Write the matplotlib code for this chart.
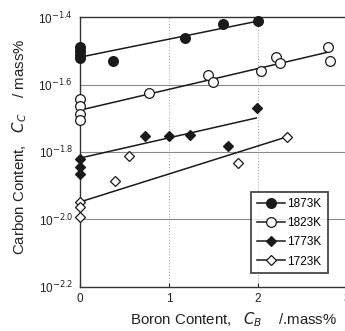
import numpy as np
import matplotlib
matplotlib.use("Agg")
import matplotlib.pyplot as plt

plt.rcParams['font.family'] = ['Liberation Sans', 'DejaVu Sans']

# Measured carbon solubility (log10 of mass%) vs boron content (mass%)
b_1873 = [0.0, 0.0, 0.0, 0.0, 0.37, 1.18, 1.61, 2.0]
logc_1873 = [-1.489, -1.501, -1.513, -1.521, -1.530, -1.462, -1.421, -1.412]

b_1823 = [0.0, 0.0, 0.0, 0.0, 0.78, 1.44, 1.49, 2.03, 2.2, 2.25, 2.79, 2.81]
logc_1823 = [-1.643, -1.664, -1.687, -1.705, -1.625, -1.572, -1.593,
             -1.560, -1.518, -1.536, -1.489, -1.530]

b_1773 = [0.0, 0.0, 0.0, 0.73, 1.0, 1.24, 1.66, 1.99]
logc_1773 = [-1.821, -1.844, -1.865, -1.753, -1.753, -1.750, -1.782, -1.670]

b_1723 = [0.0, 0.0, 0.0, 0.39, 0.55, 1.78, 2.32]
logc_1723 = [-1.948, -1.963, -1.993, -1.887, -1.812, -1.833, -1.755]

# Fitted lines: (intercept, slope, x end)
fit_1873 = (-1.519, 0.0535, 2.0)
fit_1823 = (-1.676, 0.0617, 2.79)
fit_1773 = (-1.818, 0.060, 1.98)
fit_1723 = (-1.948, 0.083, 2.32)

series = [
    ("1873K", b_1873, logc_1873, fit_1873, dict(marker='o', mfc='#1a1a1a', ms=7)),
    ("1823K", b_1823, logc_1823, fit_1823, dict(marker='o', mfc='white', ms=7)),
    ("1773K", b_1773, logc_1773, fit_1773, dict(marker='D', mfc='#1a1a1a', ms=5.5)),
    ("1723K", b_1723, logc_1723, fit_1723, dict(marker='D', mfc='white', ms=5.5)),
]

y_ticks = [-2.2, -2.0, -1.8, -1.6, -1.4]
x_ticks = [0, 1, 2, 3]

fig = plt.figure(figsize=(3.45, 3.31), dpi=100)
ax = fig.add_axes([0.232, 0.133, 0.774, 0.8156])
ax.set_yscale('log')

handles = []
for name, bx, ly, fit, st in series:
    c = np.power(10.0, ly)
    ax.plot(bx, c, linestyle='none', color='#1a1a1a', mec='#1a1a1a', mew=0.9,
            zorder=4, clip_on=False, **st)
    a, s, xe = fit
    xl = np.array([0.0, xe])
    ax.plot(xl, np.power(10.0, a + s * xl), color='#1a1a1a', lw=1.1, zorder=3)
    h, = ax.plot([], [], color='#1a1a1a', mec='#1a1a1a', lw=1.1, mew=0.9,
                 label=name, **st)
    handles.append(h)

ax.set_xlim(0, 3)
ax.set_ylim(10 ** y_ticks[0], 10 ** y_ticks[-1])

for v in y_ticks[1:-1]:
    ax.axhline(10 ** v, color='#8a8a8a', lw=0.8, zorder=1)
for v in x_ticks[1:-1]:
    ax.axvline(v, color='#9a9a9a', lw=0.7, ls=(0, (1, 2)), zorder=1)

ax.set_yticks([10 ** v for v in y_ticks])
ax.set_yticklabels(['10$^{%.1f}$' % v for v in y_ticks])
ax.yaxis.set_minor_locator(matplotlib.ticker.NullLocator())
ax.set_xticks(x_ticks)
ax.set_xticklabels([str(v) for v in x_ticks])
ax.tick_params(axis='both', direction='in', length=3, labelsize=8.5,
               colors='#222222', width=0.8)
ax.tick_params(axis='y', length=0, pad=5)
ax.tick_params(axis='x', pad=4)

for sp in ax.spines.values():
    sp.set_color('#333333')
    sp.set_linewidth(1.0)

ax.set_xlabel('Boron Content,   $C_B$    /.mass%', fontsize=10.8,
              color='#222222')
ax.xaxis.set_label_coords(0.575, -0.085)
ax.set_ylabel('Carbon Content,   $C_C$    / mass%', fontsize=10.8,
              color='#222222')
ax.yaxis.set_label_coords(-0.19, 0.52)

leg = ax.legend(handles=handles, loc='lower left', bbox_to_anchor=(0.64, 0.05),
                fontsize=8.5, handlelength=2.4, handletextpad=0.2,
                labelspacing=0.6, borderpad=0.5, borderaxespad=0.0,
                frameon=True, fancybox=False, edgecolor='#1a1a1a')
leg.get_frame().set_linewidth(1.3)
leg.set_zorder(5)

fig.savefig('out.png', dpi=100)
